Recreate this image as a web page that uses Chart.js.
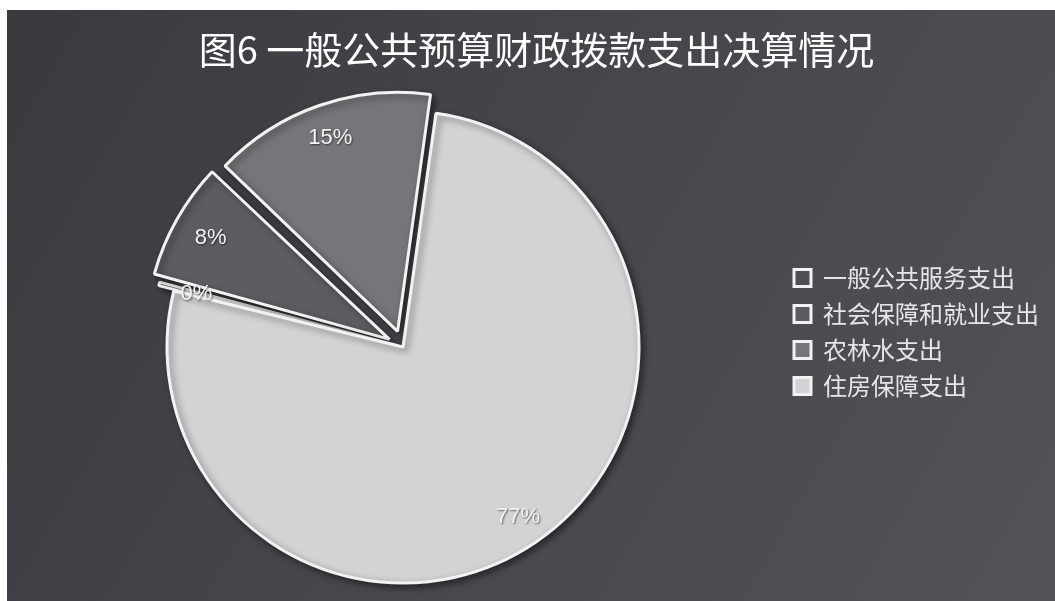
<!DOCTYPE html>
<html>
<head>
<meta charset="utf-8">
<script src="https://cdn.jsdelivr.net/npm/chart.js@4/dist/chart.umd.min.js"></script>
<style>
    html, body {
        margin: 0;
        padding: 0;
        background: #ffffff;
    }

    #fundo {
        position: absolute;
        left: 7px;
        top: 10px;
        width: 1048px;
        height: 591px;
        background: linear-gradient(120deg, #39393e 0%, #45454b 45%, #535259 100%);
    }
</style>
</head>
<body>

<div id="fundo">
    <canvas id="grafico" width="1048" height="591"></canvas>
</div>

<script>
// =======================
// DADOS
// =======================

const categorias = [
    "一般公共服务支出",
    "社会保障和就业支出",
    "农林水支出",
    "住房保障支出"
];

// percentual de cada despesa
const percentuais = [0.4, 7.9, 15.1, 76.6];

const titulo =
    "图6 一般公共预算财政拨款支出决算情况";

// =======================
// RÓTULOS NAS FATIAS
// =======================

const rotulos = {
    id: "rotulos",

    beforeDatasetsDraw(chart) {
        const c = chart.ctx;
        c.save();
        c.shadowColor = "rgba(0,0,0,0.45)";
        c.shadowBlur = 7;
        c.shadowOffsetX = 3;
        c.shadowOffsetY = 3;
    },

    afterDatasetsDraw(chart) {
        const c = chart.ctx;
        c.restore();

        const meta = chart.getDatasetMeta(0);
        const ds = chart.data.datasets[0];

        c.save();
        c.font = "22px 'Liberation Sans', Arial, sans-serif";
        c.textAlign = "center";
        c.textBaseline = "middle";
        c.fillStyle = "#f4f4f4";
        c.shadowColor = "rgba(0,0,0,0.55)";
        c.shadowBlur = 2;
        c.shadowOffsetX = 1;
        c.shadowOffsetY = 1;

        meta.data.forEach((arc, i) => {
            const p = arc.getProps(
                ["x", "y", "startAngle", "endAngle", "outerRadius"]);
            const meio = (p.startAngle + p.endAngle) / 2;
            // v4 desloca a fatia offset/4
            const desloc = (ds.offset[i] || 0) / 4;
            const raio = desloc + p.outerRadius * 0.87;

            c.fillText(
                Math.round(ds.data[i]) + "%",
                p.x + Math.cos(meio) * raio,
                p.y + Math.sin(meio) * raio
            );
        });

        c.restore();
    }
};

// =======================
// GRÁFICO
// =======================

const ctx =
    document.getElementById("grafico");

const grafico = new Chart(ctx, {
    type: "pie",

    data: {
        labels: categorias,
        datasets: [{
            data: percentuais,
            backgroundColor: ["#4e4e53", "#5c5c61", "#76767a", "#d3d3d5"],
            borderColor: "#f2f2f2",
            borderWidth: 3,
            offset: [32, 62, 66, 0],
            clip: false
        }]
    },

    options: {
        responsive: false,
        animation: false,
        radius: 236,
        rotation: -76.2,

        layout: {
            padding: {
                left: 17,
                right: 6,
                top: 0,
                bottom: 161
            }
        },

        plugins: {
            title: {
                display: true,
                text: titulo,
                color: "#ffffff",
                font: {
                    family: "'Noto Sans CJK SC', sans-serif",
                    size: 38,
                    weight: "normal"
                },
                padding: {
                    top: 17.2,
                    bottom: 181.2
                }
            },

            legend: {
                position: "right",
                align: "start",
                fullSize: false,
                labels: {
                    color: "#e6e6e6",
                    boxWidth: 17,
                    boxHeight: 17,
                    padding: 12,
                    font: {
                        family: "'Noto Sans CJK SC', sans-serif",
                        size: 24
                    }
                }
            },

            tooltip: {
                enabled: false
            }
        }
    },

    plugins: [rotulos]
});
</script>
</body>
</html>
